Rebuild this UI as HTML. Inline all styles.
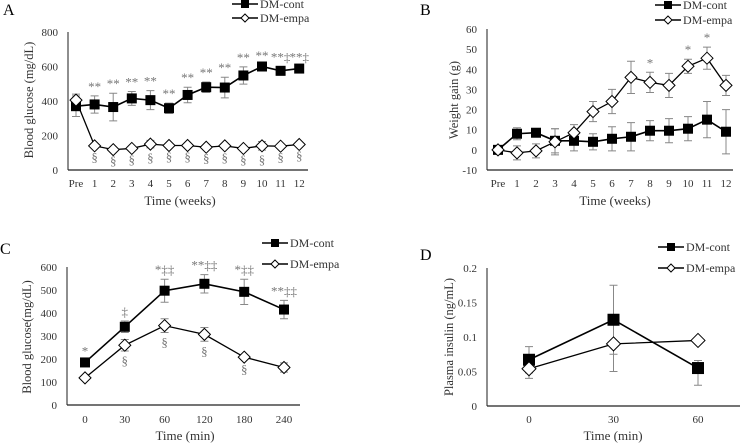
<!DOCTYPE html>
<html><head><meta charset="utf-8"><style>
body{margin:0;background:#fff}
svg{display:block;font-family:"Liberation Serif",serif}
</style></head><body>
<svg id="c" width="740" height="443"></svg>
<script>
// Panel A
const aCats=["Pre","1","2","3","4","5","6","7","8","9","10","11","12"];
const aCont=[370,380,365,415,405,358,435,480,478,548,600,575,588];
const aContErr=[60,50,80,40,55,30,45,30,60,50,10,25,12];
const aEmpa=[405,140,118,125,150,142,142,132,140,125,140,138,148];
const aEmpaErr=[35,10,8,8,22,10,10,8,12,8,25,8,8];
const aTop=["","**","**","**","**","**","**","**","**","**","**","**‡","**‡"];
const aBot=["","§","§","§","§","§","§","§","§","§","§","§","§"];
const aTicks=[0,200,400,600,800];
// Panel B
const bCats=aCats;
const bCont=[0,8,8.5,4.5,4.5,4,5.5,6.5,9.5,9.5,10.5,15,9];
const bContErr=[0,3,2,6,5,4,6,7,5,6,6,9,11];
const bEmpa=[0,-1.5,-0.5,4,8.5,19,24,36,33.5,32,41.5,45.5,32];
const bEmpaErr=[0,3.5,3.5,6.5,4,5,6,8,5,6,3.5,5.5,5];
const bTop=["","","","","","","","","*","","*","*",""];
const bTicks=[-10,0,10,20,30,40,50,60];
// Panel C
const cCats=["0","30","60","120","180","240"];
const cCont=[185,340,497,527,492,415];
const cContErr=[8,25,50,40,55,40];
const cEmpa=[118,260,345,307,208,163];
const cEmpaErr=[10,25,30,30,10,20];
const cTop=["*","‡","*‡‡","**‡‡","*‡‡","**‡‡"];
const cBot=["","§","§","§","§",""];
const cTicks=[0,100,200,300,400,500,600];
// Panel D
const dCats=["0","30","60"];
const dCont=[0.067,0.125,0.055];
const dContErr=[0.019,0.05,0.011];
const dEmpa=[0.054,0.09,0.095];
const dEmpaErr=[0.014,0.04,0];
const dTicks=["0","0.05","0.1","0.15","0.2"];

const svg=document.getElementById('c');const NS="http://www.w3.org/2000/svg";
function el(t,a,txt){const e=document.createElementNS(NS,t);for(const k in a)e.setAttribute(k,a[k]);if(txt!==undefined)e.textContent=txt;svg.appendChild(e);return e;}

function panel(o){
  const y=v=>o.y0+(v-o.vmin)/(o.vmax-o.vmin)*(o.y1-o.y0);
  const x=i=>o.x0+i*o.dx;
  let e;
  e=el('text',{x:o.lx,y:o.ly,'font-size':16},o.letter);
  
  
  e=el('line',{x1:o.ax,y1:o.y1,x2:o.ax,y2:y(o.vmin),stroke:'#444','stroke-width':1.2});
  
  
  e=el('line',{x1:o.ax,y1:y(o.vmin),x2:o.axEnd,y2:y(o.vmin),stroke:'#222','stroke-width':1.2});
  
  
  o.ticks.forEach(t=>{e=el('text',{x:o.ax-10,y:y(+t)+4,'font-size':11,'text-anchor':'end',fill:'#333'},t);
    
    });
  o.cats.forEach((c,i)=>{e=el('text',{x:x(i),y:o.catY,'font-size':11,'text-anchor':'middle',fill:'#333'},c);
    
    });
  e=el('text',{x:o.xtX,y:o.xtY,'font-size':13,'text-anchor':'middle',fill:'#333'},o.xTitle);
  
  
  e=el('text',{x:0,y:0,'font-size':12.5,'text-anchor':'middle',fill:'#333',transform:`translate(${o.ytX},${o.ytY}) rotate(-90)`},o.yTitle);
  
  
  // error bars
  [[o.cont,o.contErr,o.contDown],[o.empa,o.empaErr,o.empaDown]].forEach(([vals,errs,down],si)=>{
    vals.forEach((v,i)=>{if(!errs[i])return;const d=down?down[i]:errs[i];
      e=el('path',{d:`M${x(i)},${y(v+errs[i])}V${y(v-d)}M${x(i)-4},${y(v+errs[i])}h8M${x(i)-4},${y(v-d)}h8`,stroke:'#888','stroke-width':1,fill:'none'});
      
      });
  });
  // lines
  e=el('polyline',{points:o.cont.map((v,i)=>x(i)+','+y(v)).join(' '),fill:'none',stroke:'#000','stroke-width':1.6});
  
  
  e=el('polyline',{points:o.empa.map((v,i)=>x(i)+','+y(v)).join(' '),fill:'none',stroke:'#000','stroke-width':1.3});
  
  
  const s=o.ms;
  o.cont.forEach((v,i)=>{e=el('rect',{x:x(i)-s,y:y(v)-s,width:2*s,height:2*s,fill:'#000'});
    
    });
  o.empa.forEach((v,i)=>{const r=s+1;e=el('path',{d:`M${x(i)},${y(v)-r}L${x(i)+r},${y(v)}L${x(i)},${y(v)+r}L${x(i)-r},${y(v)}Z`,fill:'#fff',stroke:'#000','stroke-width':1});
    
    });
  if(o.top)o.top.forEach((t,i)=>{if(!t)return;const base=o.topOn==='empa'?o.empa[i]+o.empaErr[i]:o.cont[i]+o.contErr[i];
    e=el('text',{x:x(i),y:y(base)-5,'font-size':13,'text-anchor':'middle',fill:'#777'},t);
    
    });
  if(o.bot)o.bot.forEach((t,i)=>{if(!t)return;
    e=el('text',{x:x(i),y:y(o.empa[i]-o.empaErr[i])+14,'font-size':13,'text-anchor':'middle',fill:'#777'},t);
    
    });
  // legend
  [[0,'DM-cont'],[1,'DM-empa']].forEach(([k,lab])=>{const ly=o.legY+k*o.legDy,lx=o.legX;
    e=el('line',{x1:lx,y1:ly,x2:lx+26,y2:ly,stroke:'#000','stroke-width':1.4});
    
    
    if(k==0){e=el('rect',{x:lx+9,y:ly-4,width:8,height:8,fill:'#000'});}
    else{e=el('path',{d:`M${lx+13},${ly-4}L${lx+17},${ly}L${lx+13},${ly+4}L${lx+9},${ly}Z`,fill:'#fff',stroke:'#000'});}
    
    
    e=el('text',{x:lx+28,y:ly+4,'font-size':12,fill:'#333'},lab);
    
    });
}
panel({letter:'A',lx:3,ly:15,ax:68,axEnd:308,x0:76,dx:18.6,y0:170,y1:32,vmin:0,vmax:800,ticks:aTicks,cats:aCats,catY:187,
  xTitle:'Time (weeks)',xtX:180,xtY:205,yTitle:'Blood glucose (mg/dL)',ytX:33,ytY:100,
  cont:aCont,contErr:aContErr,empa:aEmpa,empaErr:aEmpaErr,top:aTop,bot:aBot,ms:5,legX:232,legY:4,legDy:14});
panel({letter:'B',lx:420,ly:15,ax:487,axEnd:733,x0:498,dx:19,y0:170,y1:29,vmin:-10,vmax:60,ticks:bTicks,cats:bCats,catY:187,
  xTitle:'Time (weeks)',xtX:615,xtY:205,yTitle:'Weight gain (g)',ytX:458,ytY:100,
  cont:bCont,contErr:bContErr,empa:bEmpa,empaErr:bEmpaErr,top:bTop,topOn:'empa',ms:5,legX:655,legY:5,legDy:15});
panel({letter:'C',lx:0,ly:254,ax:67,axEnd:300,x0:85,dx:39.8,y0:405,y1:267,vmin:0,vmax:600,ticks:cTicks,cats:cCats,catY:423,
  xTitle:'Time (min)',xtX:185,xtY:440,yTitle:'Blood glucose(mg/dL)',ytX:31,ytY:337,
  cont:cCont,contErr:cContErr,empa:cEmpa,empaErr:cEmpaErr,top:cTop,bot:cBot,ms:5,legX:262,legY:243,legDy:21});
panel({letter:'D',lx:420,ly:260,ax:487,axEnd:740,x0:529,dx:84.5,y0:406,y1:268,vmin:0,vmax:0.2,ticks:dTicks,cats:dCats,catY:423,
  xTitle:'Time (min)',xtX:613,xtY:440,yTitle:'Plasma insulin  (ng/mL)',ytX:453,ytY:337,
  cont:dCont,contErr:dContErr,contDown:[0.019,0.05,0.025],empa:dEmpa,empaErr:dEmpaErr,ms:6,legX:658,legY:247,legDy:21});
</script>
</body></html>
